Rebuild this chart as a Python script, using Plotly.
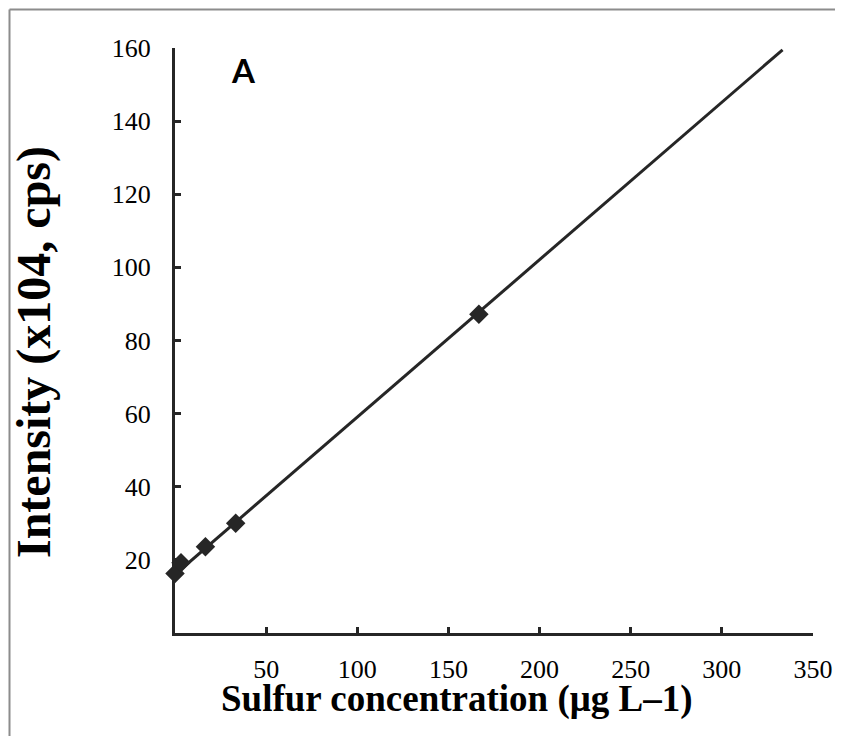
import plotly.graph_objects as go

# Data
conc = [0, 3.3, 16.7, 33.3, 166.7]          # µg L-1
intensity = [16.3, 19.2, 23.6, 30.0, 87.2]  # x10^4 cps
fit_x = [0, 333.3]
fit_y = [16.0, 159.5]
x_ticks = [50, 100, 150, 200, 250, 300, 350]
y_ticks = [20, 40, 60, 80, 100, 120, 140, 160]

OFF = 8  # page body margin
W, H = 843 - 2 * OFF, 744 - 2 * OFF
# plot area in screen pixels: x 175..813, y 48..633
L, T = 175 - OFF, 48 - OFF
R = W + OFF - 813
B = H + OFF - 633
pw, ph = W - L - R, H - T - B

def px(sx):
    return (sx - OFF - L) / pw

def py(sy):
    return (H - B - (sy - OFF)) / ph

ink = "#262626"
frame = "#8c8c8c"

fig = go.Figure()
fig.add_trace(go.Scatter(x=fit_x, y=fit_y, mode="lines",
                         line=dict(color=ink, width=3), showlegend=False,
                         hoverinfo="skip", cliponaxis=False))
fig.add_trace(go.Scatter(x=conc, y=intensity, mode="markers",
                         marker=dict(symbol="diamond", size=15, color=ink,
                                     line=dict(width=0)),
                         showlegend=False, cliponaxis=False))

fig.update_layout(
    width=W, height=H, autosize=False,
    margin=dict(l=L, r=R, t=T, b=B, pad=0, autoexpand=False),
    paper_bgcolor="white", plot_bgcolor="white",
    font=dict(family="Liberation Serif", color="black"),
    xaxis=dict(range=[0, 350], tickvals=x_ticks, showgrid=False, zeroline=False,
               showline=True, linecolor=ink, linewidth=3, automargin=False,
               ticks="inside", ticklen=6, tickwidth=3, tickcolor=ink,
               tickfont=dict(family="Liberation Serif", size=26, color="black"),
               ticklabelstandoff=11),
    yaxis=dict(range=[0, 160], tickvals=y_ticks, showgrid=False, zeroline=False,
               showline=True, linecolor=ink, linewidth=3, automargin=False,
               ticks="inside", ticklen=6, tickwidth=3, tickcolor=ink,
               tickfont=dict(family="Liberation Serif", size=26, color="black"),
               ticklabelstandoff=16),
    shapes=[
        dict(type="line", xref="paper", yref="paper",
             x0=px(9.5), x1=px(843), y0=py(9.5), y1=py(9.5),
             line=dict(color=frame, width=2), layer="below"),
        dict(type="line", xref="paper", yref="paper",
             x0=px(9.5), x1=px(9.5), y0=py(9.5), y1=py(744),
             line=dict(color=frame, width=2), layer="below"),
    ],
    annotations=[
        dict(text="<b>Sulfur concentration (μg L–1)</b>", xref="paper", yref="paper",
             x=px(456), y=py(699), xanchor="center", yanchor="middle",
             showarrow=False, font=dict(family="Liberation Serif", size=37, color="black")),
        dict(text="<b>Intensity (x104, cps)</b>", xref="paper", yref="paper",
             x=px(34), y=py(352), xanchor="center", yanchor="middle", textangle=-90,
             showarrow=False, font=dict(family="Liberation Serif", size=48, color="black")),
        dict(text="<b>A</b>", xref="paper", yref="paper",
             x=px(243), y=py(70), xanchor="center", yanchor="middle",
             showarrow=False, font=dict(family="Lato", size=33, color="black")),
    ],
)

fig.write_html("out.html")
